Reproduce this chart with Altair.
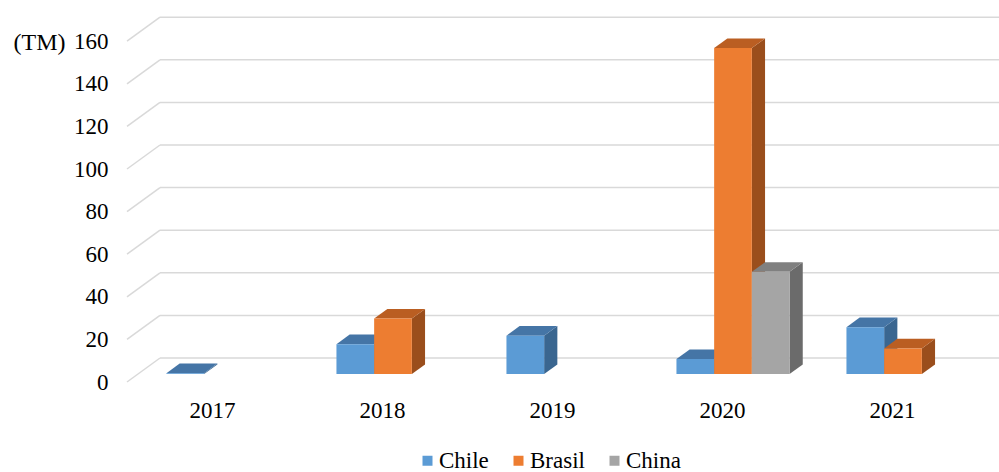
import json
import altair as alt
import pandas as pd

# ---- data ----
years = ["2017", "2018", "2019", "2020", "2021"]
series = ["Chile", "Brasil", "China"]
chile = [0.4, 14, 18, 7, 22]
brasil = [0, 26, 0, 153, 12]
china = [0, 0, 0, 48, 0]
y_ticks = [0, 20, 40, 60, 80, 100, 120, 140, 160]

front_colors = ["#5B9BD5", "#ED7D31", "#A5A5A5"]
top_colors = ["#4575A6", "#BA5E22", "#808080"]
side_colors = ["#3A6690", "#9A4E1C", "#6B6B6B"]

# ---- geometry (pseudo 3-D projection) ----
PX_U = 170.0      # pixels per category
PX_V = 2.13       # pixels per TM
W, H = 872, 382
X_DOM = [0, W / PX_U]
Y_DOM = [0, H / PX_V]
DEPTH_X = 33 / PX_U
DEPTH_Y = 24 / PX_V
BAR_W = 37.7 / PX_U
BAR_D0 = 1 / 3
BAR_D = 0.4
GAP = (1 - 3 * BAR_W) / 2
FONT = "Liberation Serif"
FS = 23

values_by_series = [chile, brasil, china]
front_rows, side_rows, top_rows = [], [], []
for i, yr in enumerate(years):
    for j, s in enumerate(series):
        v = values_by_series[j][i]
        if v <= 0:
            continue
        bid = f"{yr}-{s}"
        xl = i + GAP + j * BAR_W + BAR_D0 * DEPTH_X
        xr = xl + BAR_W
        yb = BAR_D0 * DEPTH_Y
        yt = yb + v
        dx = BAR_D * DEPTH_X
        dy = BAR_D * DEPTH_Y
        front_rows.append(dict(id=bid, series=s, year=yr, value=v, xl=xl, xr=xr, yb=yb, yt=yt))
        side_rows.append(dict(id=bid, shade=side_colors[j], sx=xr, sy=yb, sy2=yt))
        side_rows.append(dict(id=bid, shade=side_colors[j], sx=xr + dx, sy=yb + dy, sy2=yt + dy))
        top_rows.append(dict(id=bid, shade=top_colors[j], ty=yt, tx=xl, tx2=xr))
        top_rows.append(dict(id=bid, shade=top_colors[j], ty=yt + dy, tx=xl + dx, tx2=xr + dx))

grid_rows = []
for t in y_ticks:
    grid_rows.append(dict(gx=0, gy=t, gx2=DEPTH_X, gy2=t + DEPTH_Y))
    grid_rows.append(dict(gx=DEPTH_X, gy=t + DEPTH_Y, gx2=X_DOM[1], gy2=t + DEPTH_Y))

front_df = pd.DataFrame(front_rows)
side_df = pd.DataFrame(side_rows)
top_df = pd.DataFrame(top_rows)
grid_df = pd.DataFrame(grid_rows)

xscale = alt.Scale(domain=X_DOM, nice=False, zero=False)
yscale = alt.Scale(domain=Y_DOM, nice=False, zero=False)

x_axis = alt.Axis(
    values=[i + 0.5 for i in range(len(years))],
    labelExpr=f"{json.dumps(years)}[floor(datum.value)]",
    ticks=False, domain=False, grid=False,
    labelPadding=28, labelBaseline="middle", labelFont=FONT,
    labelFontSize=FS, labelColor="#000000",
)
y_axis = alt.Axis(
    values=y_ticks, ticks=False, domain=False, grid=False,
    labelPadding=19, labelFont=FONT, labelFontSize=FS, labelColor="#000000",
    titleAngle=0, titleX=-88, titleY=42, titleAlign="center",
    titleBaseline="middle", titleFont=FONT, titleFontSize=24,
    titleFontWeight="normal", titleColor="#000000",
)


def X(f):
    return alt.X(f, type="quantitative", scale=xscale, axis=x_axis, title=None)


def Y(f):
    return alt.Y(f, type="quantitative", scale=yscale, axis=y_axis, title="(TM)")


grid = alt.Chart(grid_df).mark_rule(color="#D9D9D9", strokeWidth=1.5).encode(
    x=X("gx"), y=Y("gy"), x2="gx2", y2="gy2"
)

sides = alt.Chart(side_df).mark_area(orient="vertical", strokeWidth=0).encode(
    x=X("sx"), y=Y("sy"), y2="sy2",
    fill=alt.Fill("shade:N", scale=None),
    detail="id:N",
)

tops = alt.Chart(top_df).mark_area(orient="horizontal", strokeWidth=0).encode(
    y=Y("ty"), x=X("tx"), x2="tx2",
    fill=alt.Fill("shade:N", scale=None),
    detail="id:N",
)

fronts = alt.Chart(front_df).mark_rect().encode(
    x=X("xl"), x2="xr", y=Y("yb"), y2="yt",
    color=alt.Color(
        "series:N",
        scale=alt.Scale(domain=series, range=front_colors),
        legend=alt.Legend(
            title=None, orient="none", direction="horizontal",
            legendX=289, legendY=449, symbolType="square", symbolSize=100,
            symbolStrokeWidth=0, labelFont=FONT, labelFontSize=FS,
            labelColor="#000000", labelOffset=0, columnPadding=18,
        ),
    ),
    tooltip=["year:N", "series:N", "value:Q"],
)

chart = (
    alt.layer(grid, sides, tops, fronts)
    .properties(
        width=W, height=H,
        padding={"left": 127, "top": 0, "right": 0, "bottom": 90},
        autosize=alt.AutoSizeParams(type="none"),
        background="#FFFFFF",
    )
    .configure(font=FONT)
    .configure_view(stroke=None)
)

chart.save("out.html", embed_options={"renderer": "svg", "actions": False})
